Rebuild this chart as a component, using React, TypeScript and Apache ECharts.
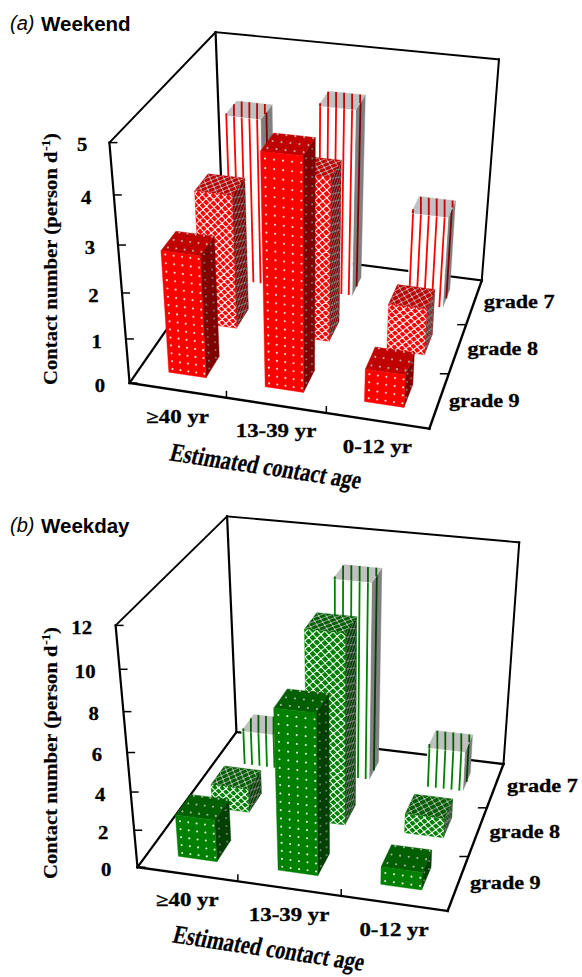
import React, { useEffect, useRef } from "react";
import * as echarts from "echarts";

const ageCategories = ["≥40 yr", "13-39 yr", "0-12 yr"];
const gradeLabels = ["grade 9", "grade 8", "grade 7"];
const weekendTicks = [0, 1, 2, 3, 4, 5];
const weekdayTicks = [0, 2, 4, 6, 8, 10, 12];
const weekendGrade9 = [2.68, 4.9, 0.73];
const weekendGrade8 = [3.0, 3.62, 1.05];
const weekendGrade7 = [3.78, 4.2, 2.1];
const weekdayGrade9 = [2.25, 8.3, 0.95];
const weekdayGrade8 = [1.3, 10.0, 1.05];
const weekdayGrade7 = [1.9, 10.6, 2.2];

// camera calibration: (u, v, z) -> page pixel
const calibA: number[][] = [
  [0, 0, 0, 130, 384], [1, 0, 0, 429, 428], [1, 1, 0, 482, 281], [0, 1, 0, 223, 246],
  [0, 0, 1, 109, 142], [0, 1, 1, 216, 33], [1, 1, 1, 499, 59],
  [0, 0, 0.2, 126, 339], [0, 0, 0.4, 122, 293], [0, 0, 0.6, 118, 245], [0, 0, 0.8, 113.6, 195],
  [1 / 3, 0, 0, 227, 398], [2 / 3, 0, 0, 326, 412.8], [1, 1 / 3, 0, 449, 374], [1, 2 / 3, 0, 466, 325],
];
const calibB: number[][] = [
  [0, 0, 0, 137, 867], [1, 0, 0, 448, 911], [1, 1, 0, 503, 765], [0, 1, 0, 237, 732],
  [0, 0, 1, 116, 626], [0, 1, 1, 227, 516], [1, 1, 1, 519, 542],
  [0, 0, 1 / 6, 133.8, 830], [0, 0, 2 / 6, 130.5, 792], [0, 0, 3 / 6, 127, 753], [0, 0, 4 / 6, 123.5, 712], [0, 0, 5 / 6, 119.7, 669],
  [1 / 3, 0, 0, 238, 881], [2 / 3, 0, 0, 341, 896], [1, 1 / 3, 0, 468.7, 856], [1, 2 / 3, 0, 487, 807.7],
];

function fitCamera(pts: number[][]): number[] {
  const n = 11;
  const A: number[][] = Array.from({ length: n }, () => new Array(n + 1).fill(0));
  const add = (row: number[], rhs: number) => {
    for (let i = 0; i < n; i++) {
      for (let j = 0; j < n; j++) A[i][j] += row[i] * row[j];
      A[i][n] += row[i] * rhs;
    }
  };
  for (const [u, v, z, x, y] of pts) {
    add([u, v, z, 1, 0, 0, 0, 0, -x * u, -x * v, -x * z], x);
    add([0, 0, 0, 0, u, v, z, 1, -y * u, -y * v, -y * z], y);
  }
  for (let c = 0; c < n; c++) {
    let p = c;
    for (let r = c + 1; r < n; r++) if (Math.abs(A[r][c]) > Math.abs(A[p][c])) p = r;
    [A[c], A[p]] = [A[p], A[c]];
    for (let r = 0; r < n; r++) {
      if (r === c) continue;
      const f = A[r][c] / A[c][c];
      for (let k = c; k <= n; k++) A[r][k] -= f * A[c][k];
    }
  }
  return A.map((r, i) => r[n] / r[i]);
}

const project = (P: number[], u: number, v: number, z: number): number[] => {
  const w = P[8] * u + P[9] * v + P[10] * z + 1;
  return [(P[0] * u + P[1] * v + P[2] * z + P[3]) / w, (P[4] * u + P[5] * v + P[6] * z + P[7]) / w];
};

const SERIF = '"Liberation Serif"';
const labelFont = `bold 18px ${SERIF}`;
const HALF_U = 0.065;
const HALF_V = 0.07;

const RED = { front: "#ff0000", top: "#c00000", side: "#800000" };
const GREEN = { front: "#008000", top: "#006000", side: "#004000" };
const LIGHT = { front: "#ffffff", top: "#c0c0c0", side: "#808080" };

type Shade = "front" | "top" | "side";

const lerp = (a: number, b: number, t: number) => a + (b - a) * t;
const seg = (a: number[], b: number[]) => `M${a[0].toFixed(2)} ${a[1].toFixed(2)}L${b[0].toFixed(2)} ${b[1].toFixed(2)}`;

function disc(c: number[], r: number) {
  let d = "";
  for (let k = 0; k < 8; k++) {
    const th = (k / 8) * Math.PI * 2;
    d += (k === 0 ? "M" : "L") + (c[0] + r * Math.cos(th)).toFixed(2) + " " + (c[1] + r * Math.sin(th)).toFixed(2);
  }
  return d + "Z";
}

function dotsPath(face: (a: number, b: number) => number[], na: number, nb: number) {
  let d = "";
  for (let i = 0; i + 0.5 < na; i++) {
    for (let j = 0; j + 0.5 < nb; j++) d += disc(face((i + 0.5) / na, (j + 0.5) / nb), 1.1);
  }
  return d;
}

function latticePath(face: (a: number, b: number) => number[], na: number, nb: number) {
  let d = "";
  for (let k = 1; k < na + nb; k++) {
    const s0 = Math.max(0, k - nb);
    const s1 = Math.min(na, k);
    if (s1 > s0) d += seg(face(s0 / na, (k - s0) / nb), face(s1 / na, (k - s1) / nb));
  }
  for (let k = -Math.ceil(nb); k < na; k++) {
    const s0 = Math.max(0, k);
    const s1 = Math.min(na, k + nb);
    if (s1 > s0) d += seg(face(s0 / na, (s0 - k) / nb), face(s1 / na, (s1 - k) / nb));
  }
  return d;
}

function nodesPath(face: (a: number, b: number) => number[], na: number, nb: number) {
  let d = "";
  for (let i = 1; i < na * 2; i++) {
    for (let j = 1; j < nb * 2; j++) {
      if ((i + j) % 2 === 0) d += disc(face(i / 2 / na, j / 2 / nb), 1.0);
    }
  }
  return d;
}

function stripesPath(face: (a: number, b: number) => number[], na: number, offset: number) {
  let d = "";
  for (let i = 0; i + offset < na; i++) {
    const a = (i + offset) / na;
    d += seg(face(a, 0), face(a, 1));
  }
  return d;
}

// the top of a striped bar keeps the front's stripes running straight up the page
function topStripes(poly: number[][], xs: number[]) {
  let d = "";
  xs.forEach((x) => {
    const ys: number[] = [];
    poly.forEach((p, i) => {
      const q = poly[(i + 1) % poly.length];
      if ((p[0] - x) * (q[0] - x) <= 0 && p[0] !== q[0]) ys.push(lerp(p[1], q[1], (x - p[0]) / (q[0] - p[0])));
    });
    if (ys.length >= 2) d += seg([x, Math.min(...ys)], [x, Math.max(...ys)]);
  });
  return d;
}

function barItem(P: number[], palette: typeof RED, axisMax: number) {
  return (_params: any, api: any) => {
    const cat = api.value(0);
    const grade = api.value(1);
    const z = api.value(2) / axisMax;
    const uc = (cat + 0.5) / 3;
    const vc = (grade + 0.5) / 3;
    const u0 = uc - HALF_U, u1 = uc + HALF_U, v0 = vc - HALF_V, v1 = vc + HALF_V;
    const scr = (u: number, v: number, w: number) => api.coord(project(P, u, v, w));
    const faces: Record<Shade, (a: number, b: number) => number[]> = {
      front: (a, b) => scr(lerp(u0, u1, a), v0, z * b),
      top: (a, b) => scr(lerp(u0, u1, a), lerp(v0, v1, b), z),
      side: (a, b) => scr(u1, lerp(v0, v1, a), z * b),
    };
    const rows = z / 0.036;
    const children: any[] = [];
    (["side", "top", "front"] as Shade[]).forEach((shade) => {
      const f = faces[shade];
      const isWhite = grade === 2;
      const baseFill = isWhite ? LIGHT[shade] : palette[shade];
      const poly = [f(0, 0), f(1, 0), f(1, 1), f(0, 1)];
      children.push({
        type: "polygon",
        shape: { points: poly },
        style: { fill: baseFill, stroke: baseFill, lineWidth: 0.4 },
      });
      if (grade === 0) {
        const na = shade === "side" ? 2 : 4.7;
        const nb = shade === "top" ? 2.6 : rows;
        children.push({ type: "path", shape: { pathData: dotsPath(f, na, nb) }, style: { fill: LIGHT[shade], opacity: 0.85, stroke: "none" } });
      } else if (grade === 1) {
        const na = shade === "side" ? 2 : 5;
        const nb = shade === "top" ? 3 : rows * 1.1;
        const lw = shade === "front" ? 1.15 : 0.8;
        children.push({ type: "path", shape: { pathData: latticePath(f, na, nb) }, style: { fill: "none", stroke: LIGHT[shade], lineWidth: lw, opacity: 0.9 } });
        children.push({ type: "path", shape: { pathData: nodesPath(f, na, nb) }, style: { fill: LIGHT[shade], stroke: "none", opacity: 0.9 } });
      } else {
        let d: string;
        if (shade === "top") {
          const xs = [0, 1, 2, 3, 4, 5].map((i) => faces.front((i + 0.25) / 4.7, 1)[0]);
          d = topStripes(poly, xs);
        } else {
          d = shade === "side" ? stripesPath(f, 1, 0.5) : stripesPath(f, 4.7, 0.25);
        }
        children.push({ type: "path", shape: { pathData: d }, style: { fill: "none", stroke: palette[shade], lineWidth: 1.8 } });
      }
    });
    return { type: "group", children };
  };
}

function txt(x: number, y: number, text: string, font: string, align: string, extra: any = {}, heavy = 0) {
  return {
    type: "text",
    x,
    y,
    silent: true,
    ...extra,
    style: {
      text, font, fill: "#000", align, textAlign: align, verticalAlign: "middle", textVerticalAlign: "middle",
      ...(heavy ? { stroke: "#000", lineWidth: heavy } : {}),
    },
  };
}

function frameItem(P: number[], ticks: number[], axisMax: number, numOffset: number) {
  return (_params: any, api: any) => {
    const scr = (u: number, v: number, w: number) => api.coord(project(P, u, v, w));
    const line = (a: number[], b: number[], w: number) => ({
      type: "line",
      shape: { x1: a[0], y1: a[1], x2: b[0], y2: b[1] },
      style: { stroke: "#000", lineWidth: w, lineCap: "square" },
    });
    const O = scr(0, 0, 0), FR = scr(1, 0, 0), BR = scr(1, 1, 0), BL = scr(0, 1, 0);
    const OT = scr(0, 0, 1), BLT = scr(0, 1, 1), BRT = scr(1, 1, 1);
    const kids: any[] = [
      line(O, FR, 2.4), line(FR, BR, 2.4), line(BR, BL, 2.2), line(BL, O, 2.2),
      line(O, OT, 2.2), line(OT, BLT, 1.9), line(BLT, BL, 2.2), line(BLT, BRT, 1.9), line(BRT, BR, 2),
    ];
    ticks.forEach((t) => {
      const p = scr(0, 0, t / axisMax);
      kids.push({ ...line(p, [p[0] + 8, p[1]], 1.5), style: { stroke: "#000", lineWidth: 1.5 } });
      kids.push(txt(p[0] + numOffset, p[1] + 2, String(t), `bold 18.5px ${SERIF}`, "right", { scaleX: 1.12, originX: p[0] + numOffset }, 0.3));
    });
    [1 / 3, 2 / 3].forEach((u) => {
      const p = scr(u, 0, 0);
      kids.push({ ...line(p, [p[0], p[1] - 7], 1.5), style: { stroke: "#000", lineWidth: 1.5 } });
      const q = scr(1, u, 0);
      kids.push({ ...line(q, [q[0] - 9, q[1]], 1.5), style: { stroke: "#000", lineWidth: 1.5 } });
    });
    ageCategories.forEach((c, i) => {
      const p = scr((i + 0.5) / 3, 0, 0);
      kids.push(txt(p[0], p[1] + 26, c, labelFont, "center", { scaleX: 1.27 }, 0.3));
    });
    gradeLabels.forEach((g, i) => {
      const p = scr(1, (i + 0.5) / 3, 0);
      kids.push(txt(p[0] + (axisMax === 5 ? 45 : 47), p[1], g, labelFont, "center", { scaleX: 1.23 }, 0.3));
    });
    return { type: "group", children: kids };
  };
}

const measure = (text: string, font: string) => {
  const ctx = document.createElement("canvas").getContext("2d")!;
  ctx.font = font;
  return ctx.measureText(text).width;
};

function yTitle(x: number, yStart: number, stretch: number) {
  const main = "Contact number (person d";
  const font = `bold 19px ${SERIF}`;
  const mainW = measure(main, font) * stretch;
  const supFont = `bold 12px ${SERIF}`;
  const supW = measure("-1", supFont) * stretch;
  const rot = { rotation: Math.PI / 2, scaleX: stretch };
  return [
    txt(x, yStart, main, font, "left", rot, 0.2),
    txt(x - 4, yStart - mainW, "-1", supFont, "left", rot, 0.2),
    txt(x, yStart - mainW - supW, ")", font, "left", rot, 0.2),
  ];
}

function graphics() {
  const sans = '"Liberation Sans"';
  const head = (y: number, tag: string, name: string) => [
    txt(10, y, tag, `italic 20px ${sans}`, "left"),
    txt(41, y, name, `bold 20.5px ${sans}`, "left"),
  ];
  const xTitle = (x: number, y: number) =>
    txt(x, y, "Estimated contact age", `bold 26px ${SERIF}`, "center", {
      rotation: (-8.5 * Math.PI) / 180,
      scaleX: 0.79,
    }, 0.25);
  return [
    ...head(23, "(a)", "Weekend"),
    ...head(525, "(b)", "Weekday"),
    ...yTitle(50, 385, 1.09),
    ...yTitle(50, 879, 1.09),
    xTitle(266, 466),
    xTitle(269, 948),
  ];
}

function rows(values: number[], grade: number) {
  return values.map((v, i) => [i, grade, v]);
}

function panelSeries(P: number[], palette: typeof RED, axisMax: number, ticks: number[], numOffset: number, groups: number[][]) {
  const base = { type: "custom", coordinateSystem: "cartesian2d", clip: false, silent: true, animation: false };
  return [
    { ...base, data: [[0, 0, 0]], renderItem: frameItem(P, ticks, axisMax, numOffset) },
    // back row first, so that nearer bars paint over farther ones
    ...[2, 1, 0].map((g) => ({ ...base, data: rows(groups[g], g), renderItem: barItem(P, palette, axisMax) })),
  ];
}

export default function App() {
  const ref = useRef<HTMLDivElement>(null);
  useEffect(() => {
    const chart = echarts.init(ref.current!, undefined, { renderer: "svg" });
    const A = fitCamera(calibA);
    const B = fitCamera(calibB);
    chart.setOption({
      animation: false,
      backgroundColor: "#ffffff",
      grid: { left: 0, right: 0, top: 0, bottom: 0 },
      xAxis: { type: "value", min: 0, max: 582, show: false },
      yAxis: { type: "value", min: 0, max: 977, inverse: true, show: false },
      graphic: graphics(),
      series: [
        ...panelSeries(A, RED, 5, weekendTicks, -10, [weekendGrade9, weekendGrade8, weekendGrade7]),
        ...panelSeries(B, GREEN, 12, weekdayTicks, -11, [weekdayGrade9, weekdayGrade8, weekdayGrade7]),
      ],
    });
    // the axis title leans like an oblique face
    const zr = chart.getZr();
    (zr as any).storage.getDisplayList(true).forEach((el: any) => {
      const t = el.style && el.style.text;
      if (typeof t === "string" && t.indexOf("Estimated") === 0) {
        const target = el.parent || el;
        target.skewX = -0.12;
        target.markRedraw();
        if (el.markRedraw) el.markRedraw();
      }
    });
    (zr as any).refreshImmediately();
    return () => chart.dispose();
  }, []);
  return <div ref={ref} style={{ position: "absolute", left: 0, top: 0, width: 582, height: 977 }} />;
}
